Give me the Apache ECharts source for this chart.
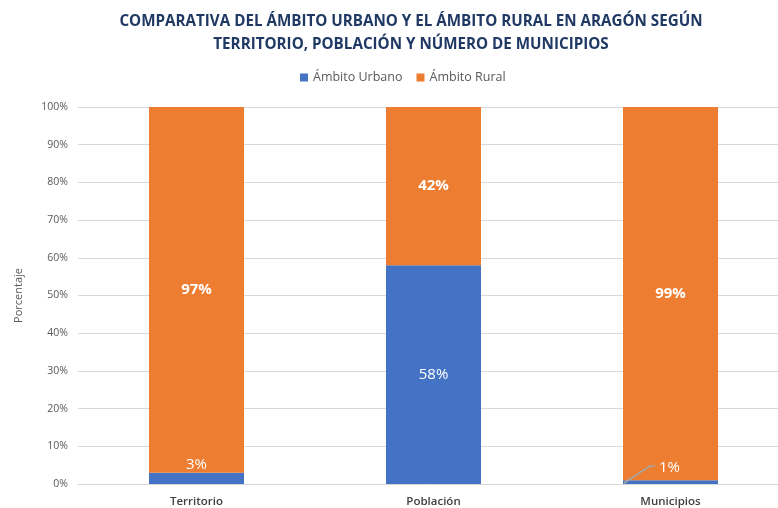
<!DOCTYPE html>
<html>
<head>
<meta charset="utf-8">
<script src="https://cdn.jsdelivr.net/npm/echarts@6/dist/echarts.min.js"></script>
<style>
  html, body { margin: 0; padding: 0; background: #fff; }
  #chart { width: 778px; height: 508px; }
</style>
</head>
<body>
<div id="chart"></div>
<script>
const categories = ['Territorio', 'Población', 'Municipios']
const urbano = [3, 58, 1]
const rural = [97, 42, 99]

const chart = echarts.init(document.getElementById('chart'))
const font = '"Open Sans", "Noto Sans", sans-serif'
const barWidth = 95

// small urban shares: label sits just above the blue bar
const urbanoData = urbano.map((v, i) => {
  if (i === 0) {
    return { value: v, label: { position: 'top', distance: 0 } }
  }
  if (i === 2) {
    return { value: v, label: { position: 'top', distance: 0, offset: [-1, -5] } }
  }
  return v
})

// guide line for the 1% label, anchored on the bar's bottom left corner
const guideData = [[2, 0]]

const option = {
  textStyle: { fontFamily: font },
  title: {
    text: 'COMPARATIVA DEL ÁMBITO URBANO Y EL ÁMBITO RURAL EN ARAGÓN SEGÚN\nTERRITORIO, POBLACIÓN Y NÚMERO DE MUNICIPIOS',
    left: 406,
    textAlign: 'center',
    top: 5,
    textStyle: {
      fontFamily: font,
      fontSize: 15.2,
      fontWeight: 'bold',
      color: '#1F3864',
      lineHeight: 23
    }
  },
  legend: {
    top: 66,
    left: 295,
    itemWidth: 8,
    itemHeight: 8,
    itemGap: 14,
    icon: 'rect',
    textStyle: { fontFamily: font, fontSize: 12.5, color: '#595959' },
    data: ['Ámbito Urbano', 'Ámbito Rural']
  },
  grid: {
    left: 78,
    top: 107,
    width: 711,
    bottom: 24,
    outerBoundsMode: 'none'
  },
  xAxis: {
    type: 'category',
    data: categories,
    axisLine: { lineStyle: { color: '#d9d9d9' } },
    axisTick: { show: false },
    axisLabel: {
      fontFamily: font,
      fontSize: 11.5,
      fontWeight: 600,
      color: '#404040',
      margin: 12
    }
  },
  yAxis: {
    type: 'value',
    min: 0,
    max: 100,
    interval: 10,
    name: 'Porcentaje',
    nameLocation: 'middle',
    nameGap: 54,
    nameRotate: 90,
    nameTextStyle: { fontFamily: font, fontSize: 11, color: '#595959' },
    axisLine: { show: false },
    axisTick: { show: false },
    splitLine: { lineStyle: { color: '#d9d9d9' } },
    axisLabel: {
      formatter: '{value}%',
      fontFamily: font,
      fontSize: 10.5,
      color: '#595959',
      margin: 10
    }
  },
  series: [
    {
      name: 'Ámbito Urbano',
      type: 'bar',
      stack: 'total',
      barWidth: barWidth,
      itemStyle: { color: '#4472C4' },
      label: {
        show: true,
        position: 'inside',
        formatter: '{c}%',
        color: '#fff',
        fontFamily: font,
        fontSize: 15
      },
      data: urbanoData
    },
    {
      name: 'Ámbito Rural',
      type: 'bar',
      stack: 'total',
      barWidth: barWidth,
      itemStyle: { color: '#ED7D31' },
      label: {
        show: true,
        position: 'inside',
        formatter: '{c}%',
        color: '#fff',
        fontFamily: font,
        fontSize: 15,
        fontWeight: 'bold'
      },
      data: rural
    },
    {
      type: 'custom',
      silent: true,
      z: 5,
      renderItem: function (params, api) {
        const p = api.coord([api.value(0), api.value(1)])
        const x0 = p[0] - barWidth / 2
        return {
          type: 'polyline',
          shape: {
            points: [[x0 + 1, p[1] - 1], [x0 + 27, p[1] - 18], [x0 + 32, p[1] - 18]]
          },
          style: { stroke: '#a6a6a6', lineWidth: 1.5, fill: null }
        }
      },
      data: guideData
    }
  ]
}

chart.setOption(option)
</script>
</body>
</html>
